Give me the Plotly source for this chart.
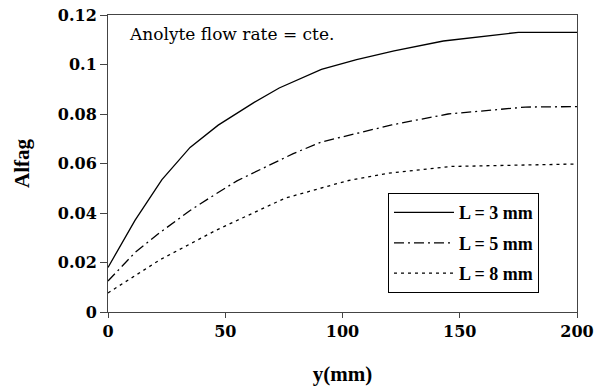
import plotly.graph_objects as go

x3 = [0, 11.5, 23, 35, 47, 62, 73, 91, 106, 122, 143, 175, 200]
y3 = [0.018, 0.037, 0.0535, 0.0665, 0.0755, 0.0845, 0.0905, 0.098, 0.102, 0.1055, 0.1095, 0.113, 0.113]

x5 = [0, 11.5, 22, 35, 44, 55, 79, 91, 121, 145, 178, 200]
y5 = [0.0125, 0.024, 0.032, 0.041, 0.0465, 0.053, 0.064, 0.0687, 0.0756, 0.080, 0.0828, 0.083]

x8 = [0, 22, 46, 75.5, 102, 119, 146, 200]
y8 = [0.0077, 0.021, 0.033, 0.046, 0.053, 0.056, 0.0588, 0.0598]

names = ["L = 3 mm", "L = 5 mm", "L = 8 mm"]
yticks = [0, 0.02, 0.04, 0.06, 0.08, 0.1, 0.12]
ytick_text = ["0", "0.02", "0.04", "0.06", "0.08", "0.1", "0.12"]
xticks = [0, 50, 100, 150, 200]
xtick_text = ["0", "50", "100", "150", "200"]

fig = go.Figure()
fig.add_trace(go.Scatter(x=x3, y=y3, mode="lines", name=names[0], legendgroup="a",
                         line=dict(color="black", width=1.3, dash="solid")))
fig.add_trace(go.Scatter(x=x5, y=y5, mode="lines", name=names[1], legendgroup="b",
                         line=dict(color="black", width=1.3, dash="10px,4px,2px,4px")))
fig.add_trace(go.Scatter(x=x8, y=y8, mode="lines", name=names[2], legendgroup="c",
                         line=dict(color="black", width=1.3, dash="3px,4px")))

font = "Liberation Serif"
tickfont = dict(family="DejaVu Serif", size=16, color="black", weight="bold")
fig.update_layout(
    width=604, height=389,
    margin=dict(l=108, r=27, t=15, b=77),
    paper_bgcolor="white", plot_bgcolor="white",
    font=dict(family=font, color="black"),
    showlegend=True,
    legend=dict(x=0.597, y=0.40, xanchor="left", yanchor="top",
                bordercolor="black", borderwidth=1, bgcolor="white",
                font=dict(family=font, size=18, color="black", weight="bold"),
                tracegroupgap=4, itemwidth=60),
    xaxis=dict(range=[0, 200], tickvals=xticks, ticktext=xtick_text, automargin=False,
               ticks="outside", ticklen=5, tickcolor="#444",
               showline=True, linecolor="#444", mirror=True, showgrid=False, zeroline=False,
               tickfont=tickfont,
               title=dict(text="y(mm)", font=dict(family=font, size=21, color="black", weight="bold"), standoff=26)),
    yaxis=dict(range=[0, 0.12], tickvals=yticks, ticktext=ytick_text, automargin=False,
               ticks="outside", ticklen=7, tickcolor="#444",
               showline=True, linecolor="#444", mirror=True, showgrid=False, zeroline=False,
               tickfont=tickfont,
               title=dict(text="Alfag", font=dict(family=font, size=21, color="black", weight="bold"), standoff=22)),
    annotations=[dict(text="Anolyte flow rate = cte.", x=0.04, y=0.975, xref="paper", yref="paper",
                      xanchor="left", yanchor="top", showarrow=False,
                      font=dict(family="DejaVu Serif", size=17, color="black"))],
)

fig.write_html("out.html")
